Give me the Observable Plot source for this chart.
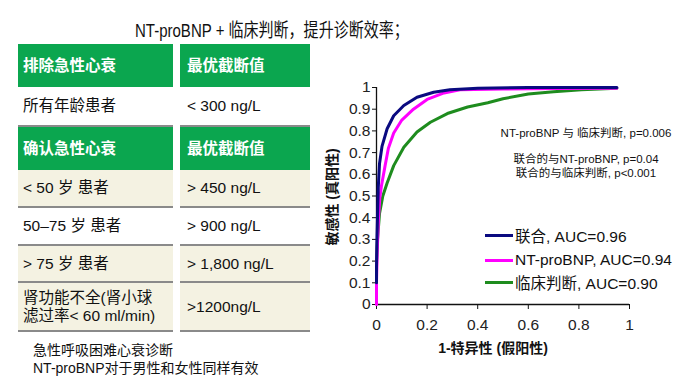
<!DOCTYPE html>
<html>
<head>
<meta charset="utf-8">
<script src="https://cdn.jsdelivr.net/npm/d3@7"></script>
<script src="https://cdn.jsdelivr.net/npm/@observablehq/plot@0.6"></script>
<style>
  html, body { margin: 0; padding: 0; background: #fff; }
  body { width: 680px; height: 376px; position: relative; overflow: hidden;
         font-family: "Liberation Sans", "Noto Sans CJK SC", sans-serif; color: #111; }
  .abs { position: absolute; white-space: nowrap; }
  #title { left: 135px; top: 19px; font-size: 19px; transform: scaleX(0.79); transform-origin: left top; line-height: 24px; }
  #tbl { position: absolute; left: 18px; top: 44px; display: grid;
         grid-template-columns: 155px 130px; column-gap: 7px; }
  #tbl div { box-sizing: border-box; display: flex; align-items: center; font-size: 15.5px; line-height: 18px; }
  #tbl .h { background: #0ba64f; color: #fff; font-weight: bold; }
  #tbl .c1 { padding-left: 5px; }
  #tbl .c2 { padding-left: 7px; }
  #tbl .b { border-bottom: 2px solid #8a8a8a; }
  #tbl .w { background: #fff; }
  #tbl .y { background: #f4f2e2; }
  #foot { left: 33px; top: 341px; font-size: 14px; line-height: 18px; }
  #chart { position: absolute; left: 320px; top: 70px; }
  .note { position: absolute; font-size: 11.5px; transform: translateX(-50%); white-space: nowrap; color: #111; }
  .leg { position: absolute; left: 485px; font-size: 15.5px; white-space: nowrap; display: flex; align-items: center; height: 20px; }
  .leg span.sw { display: inline-block; width: 28px; height: 3px; margin-right: 2px; }
  #ylab { left: 331px; top: 197px; font-size: 14px; font-weight: bold; transform: translate(-50%,-50%) rotate(-90deg); }
  #xlab { left: 493px; top: 347px; font-size: 14px; font-weight: bold; transform: translate(-50%,-50%); }
</style>
</head>
<body>
<div id="title" class="abs">NT-proBNP + 临床判断，提升诊断效率；</div>
<div id="tbl"></div>
<div id="foot" class="abs"></div>
<div id="chart"></div>
<div id="notes"></div>
<div id="legend"></div>
<div id="ylab" class="abs">敏感性 (真阳性)</div>
<div id="xlab" class="abs">1-特异性 (假阳性)</div>
<script>
// ---- Table content ----
const tableHeaders1 = ["排除急性心衰", "最优截断值"];
const tableRows1 = [["所有年龄患者", "< 300 ng/L"]];
const tableHeaders2 = ["确认急性心衰", "最优截断值"];
const tableRows2 = [
  ["< 50 岁 患者", "> 450 ng/L"],
  ["50–75 岁 患者", "> 900 ng/L"],
  ["> 75 岁 患者", "> 1,800 ng/L"],
  ["肾功能不全(肾小球<br>滤过率< 60 ml/min)", ">1200ng/L"]
];
const footLines = ["急性呼吸困难心衰诊断", "NT-proBNP对于男性和女性同样有效"];

// ---- ROC data ----
const combinedFpr = [0, 0, 0.002, 0.007, 0.012, 0.022, 0.042, 0.068, 0.108, 0.16, 0.226, 0.29, 0.4, 0.6, 0.8, 0.95];
const combinedTpr = [0.1, 0.17, 0.31, 0.54, 0.65, 0.73, 0.81, 0.87, 0.917, 0.955, 0.978, 0.99, 0.997, 1.0, 1.0, 1.0];
const ntFpr = [0, 0, 0.003, 0.008, 0.013, 0.02, 0.034, 0.047, 0.068, 0.10, 0.146, 0.2, 0.267, 0.33, 0.5, 0.7, 0.95];
const ntTpr = [0, 0.1, 0.25, 0.4, 0.49, 0.55, 0.64, 0.72, 0.79, 0.85, 0.90, 0.945, 0.975, 0.99, 0.993, 0.995, 0.997];
const clinFpr = [0, 0.004, 0.012, 0.025, 0.042, 0.068, 0.108, 0.16, 0.213, 0.28, 0.36, 0.44, 0.5, 0.6, 0.7, 0.81, 0.95];
const clinTpr = [0.2, 0.3, 0.42, 0.5, 0.56, 0.64, 0.725, 0.795, 0.84, 0.88, 0.91, 0.93, 0.948, 0.97, 0.98, 0.99, 0.997];

const seriesNames = ["联合, AUC=0.96", "NT-proBNP, AUC=0.94", "临床判断, AUC=0.90"];
const seriesColors = ["#0a0a80", "#ff00ff", "#1e8c1e"];

const xTicks = [0, 0.2, 0.4, 0.6, 0.8, 1];
const xTickLabels = ["0", "0.2", "0.4", "0.6", "0.8", "1"];
const yTicks = [0, 0.1, 0.2, 0.3, 0.4, 0.5, 0.6, 0.7, 0.8, 0.9, 1];
const yTickLabels = ["0", "0.1", "0.2", "0.3", "0.4", "0.5", "0.6", "0.7", "0.8", "0.9", "1"];

const notes = ["NT-proBNP 与 临床判断, p=0.006", "联合的与NT-proBNP, p=0.04", "联合的与临床判断, p<0.001"];

// ---- Build table ----
const tbl = document.getElementById("tbl");
function addRow(cells, cls, h) {
  cells.forEach((t, i) => {
    const d = document.createElement("div");
    d.className = cls + " " + (i === 0 ? "c1" : "c2");
    d.style.height = h + "px";
    d.innerHTML = t;
    tbl.appendChild(d);
  });
}
addRow(tableHeaders1, "h", 43);
addRow(tableRows1[0], "w b", 40);
addRow(tableHeaders2, "h", 43);
const bodyH = [38, 38, 37, 49];
const bodyCls = ["y b", "w b", "y b", "y b"];
tableRows2.forEach((r, i) => addRow(r, bodyCls[i], bodyH[i]));
document.getElementById("foot").innerHTML = footLines.join("<br>");

// ---- Chart ----
const toPts = (xs, ys) => xs.map((x, i) => ({x, y: ys[i]}));
const combined = toPts(combinedFpr, combinedTpr);
const ntpro = toPts(ntFpr, ntTpr);
const clinical = toPts(clinFpr, clinTpr);

const chart = Plot.plot({
  width: 340, height: 300,
  marginLeft: 56, marginRight: 31, marginTop: 17, marginBottom: 66,
  x: {domain: [0, 1]},
  y: {domain: [0, 1]},
  style: {fontFamily: '"Liberation Sans", "Noto Sans CJK SC", sans-serif', fontSize: "15.5px", color: "#222", background: "transparent", overflow: "visible"},
  marks: [
    Plot.ruleX([0], {y1: 0, y2: 1, stroke: "#111", strokeWidth: 1.3}),
    Plot.ruleY([0], {x1: 0, x2: 1, stroke: "#111", strokeWidth: 1.3}),
    Plot.axisX(xTicks, {tickSize: 5, tickPadding: 9, label: null, stroke: "#111",
      tickFormat: d => xTickLabels[xTicks.indexOf(d)]}),
    Plot.axisY(yTicks, {tickSize: 4, tickPadding: 2, label: null, stroke: "#111",
      tickFormat: d => yTickLabels[yTicks.indexOf(d)]}),
    Plot.line(clinical, {x: "x", y: "y", stroke: seriesColors[2], strokeWidth: 3}),
    Plot.line(ntpro, {x: "x", y: "y", stroke: seriesColors[1], strokeWidth: 3}),
    Plot.line(combined, {x: "x", y: "y", stroke: seriesColors[0], strokeWidth: 3})
  ]
});
document.getElementById("chart").appendChild(chart);

// ---- Notes ----
const noteTops = [124, 150, 164];
const notesEl = document.getElementById("notes");
notes.forEach((t, i) => {
  const d = document.createElement("div");
  d.className = "note";
  d.style.left = "586px";
  d.style.top = noteTops[i] + "px";
  d.textContent = t;
  notesEl.appendChild(d);
});

// ---- Legend ----
const legTops = [225, 250, 272];
const legEl = document.getElementById("legend");
seriesNames.forEach((t, i) => {
  const d = document.createElement("div");
  d.className = "leg";
  d.style.top = legTops[i] + "px";
  d.innerHTML = `<span class="sw" style="background:${seriesColors[i]}"></span>${t}`;
  legEl.appendChild(d);
});
</script>
</body>
</html>
